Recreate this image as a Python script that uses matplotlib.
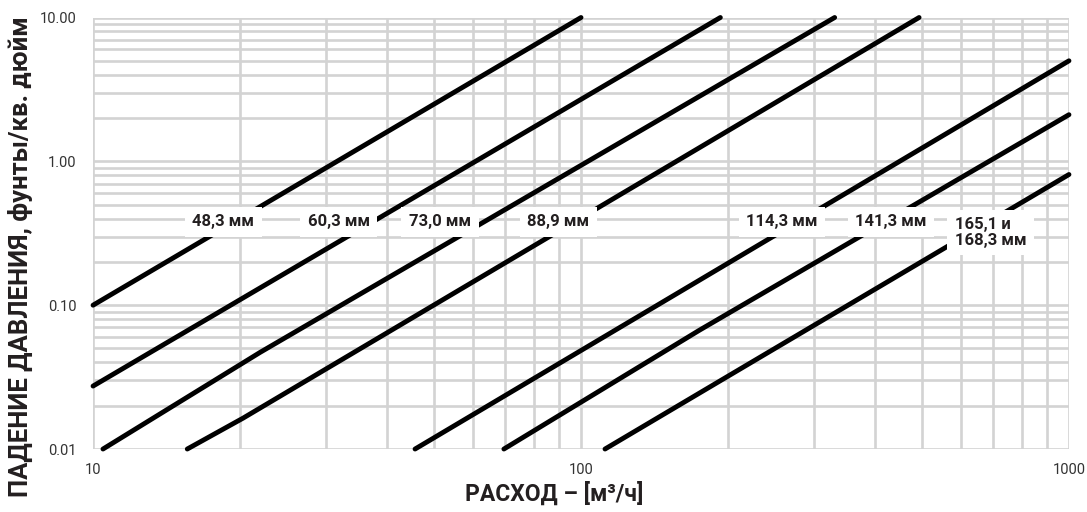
import matplotlib
matplotlib.use("Agg")
import matplotlib.pyplot as plt
from matplotlib.ticker import LogLocator, NullFormatter, FixedLocator, FixedFormatter

# pipe sizes and their pressure drop curves (flow m3/h, psi)
sizes = ["48,3 мм", "60,3 мм", "73,0 мм", "88,9 мм", "114,3 мм", "141,3 мм", "165,1 и\n168,3 мм"]

flow_48 = [10, 100]
dp_48 = [0.10, 10.0]
flow_60 = [10, 193]
dp_60 = [0.0274, 10.0]
flow_73 = [10.48, 22.0, 331]
dp_73 = [0.010, 0.047, 10.0]
flow_89 = [15.6, 20.3, 493]
dp_89 = [0.010, 0.0164, 10.0]
flow_114 = [45.7, 1000]
dp_114 = [0.010, 5.0]
flow_141 = [69.5, 175, 1000]
dp_141 = [0.010, 0.0671, 2.11]
flow_165 = [112, 197, 1000]
dp_165 = [0.010, 0.0311, 0.81]

curves = [(flow_48, dp_48), (flow_60, dp_60), (flow_73, dp_73), (flow_89, dp_89),
          (flow_114, dp_114), (flow_141, dp_141), (flow_165, dp_165)]

x_ticks = [10, 100, 1000]
x_ticklabels = ["10", "100", "1000"]
y_ticks = [0.01, 0.1, 1, 10]
y_ticklabels = ["0.01", "0.10", "1.00", "10.00"]

# where the labels sit (data coords)
label_pos = [(18.5, 0.38), (31.9, 0.38), (51.4, 0.38), (89.8, 0.38),
             (258, 0.38), (432, 0.38), (583, 0.32)]

font = ["Roboto", "DejaVu Sans"]

fig = plt.figure(figsize=(10.87, 5.12), dpi=100)
ax = fig.add_axes([0.0856, 0.123, 0.8978, 0.8428])
ax.set_xscale("log")
ax.set_yscale("log")
ax.set_xlim(10, 1000)
ax.set_ylim(0.01, 10)

ax.xaxis.set_major_locator(FixedLocator(x_ticks))
ax.xaxis.set_major_formatter(FixedFormatter(x_ticklabels))
ax.yaxis.set_major_locator(FixedLocator(y_ticks))
ax.yaxis.set_major_formatter(FixedFormatter(y_ticklabels))
ax.xaxis.set_minor_locator(LogLocator(base=10, subs=range(2, 10)))
ax.yaxis.set_minor_locator(LogLocator(base=10, subs=range(2, 10)))
ax.xaxis.set_minor_formatter(NullFormatter())
ax.yaxis.set_minor_formatter(NullFormatter())

ax.grid(True, which="both", color="#d3d3d3", linewidth=1.9)
ax.set_axisbelow(True)
for s in ax.spines.values():
    s.set_visible(False)
ax.tick_params(which="both", length=0)
ax.tick_params(axis="x", pad=10)
ax.tick_params(axis="y", pad=12)
for lab in ax.get_xticklabels() + ax.get_yticklabels():
    lab.set_family(font)
    lab.set_fontsize(10.5)
    lab.set_color("#333333")

for (fx, fy) in curves:
    ax.plot(fx, fy, color="black", linewidth=3.5, solid_capstyle="round",
            clip_on=False, zorder=3)

for name, (lx, ly) in zip(sizes, label_pos):
    ha = "left" if "\n" in name else "center"
    ax.text(lx, ly, name, ha=ha, va="center", fontsize=12, fontweight="bold",
            family=font, color="#231f20", zorder=5, linespacing=1.05,
            bbox=dict(boxstyle="square,pad=0.45", facecolor="white", edgecolor="none"))

fig.text(554 / 1087, 1 - 494 / 512, "РАСХОД – [м³/ч]", ha="center", va="center",
         fontsize=16.5, fontweight="bold", family=font, color="#231f20")
fig.text(20 / 1087, 1 - 257 / 512, "ПАДЕНИЕ ДАВЛЕНИЯ, фунты/кв. дюйм", ha="center",
         va="center", rotation=90, fontsize=18.5, fontweight="bold",
         family=font, color="#231f20")

fig.savefig("out.png", dpi=100)
